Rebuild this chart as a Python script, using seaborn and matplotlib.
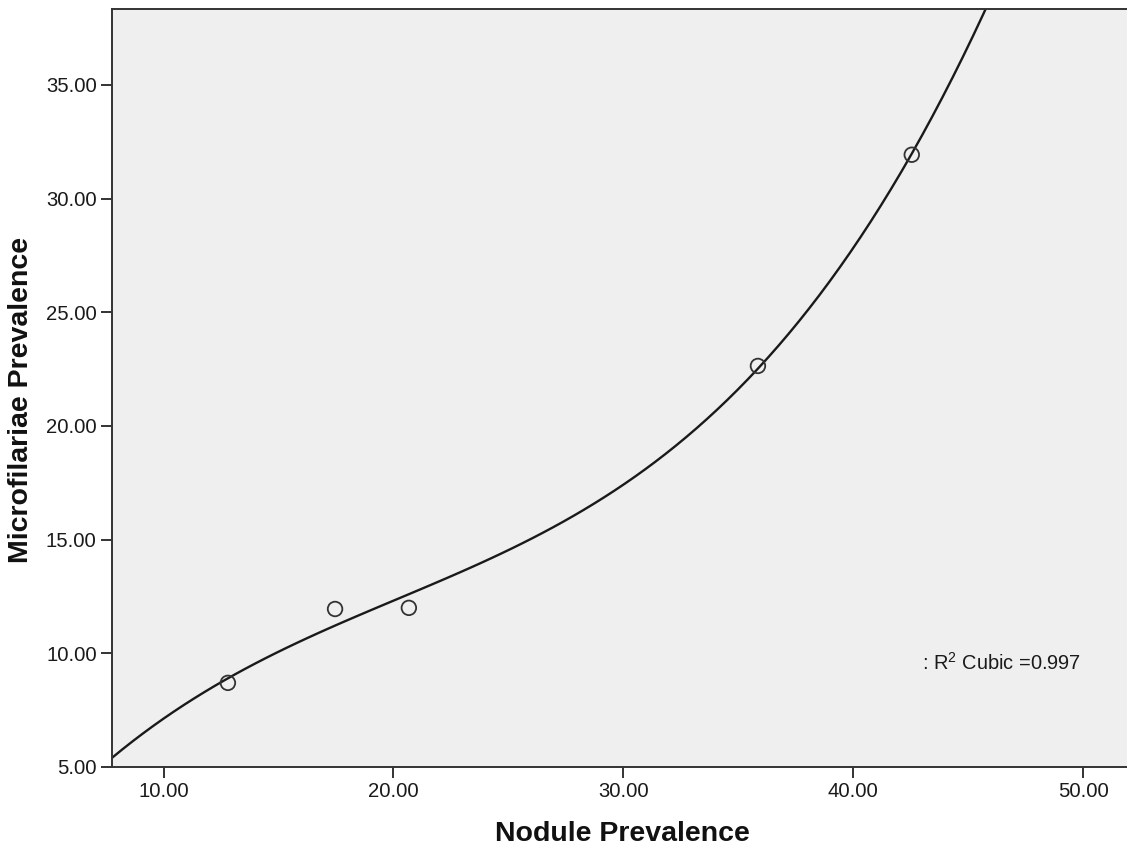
import matplotlib
matplotlib.use("Agg")
import matplotlib.pyplot as plt
import seaborn as sns
import numpy as np
import pandas as pd

# Data
nodule_prev = [12.80, 17.46, 20.67, 35.85, 42.54]
microfil_prev = [8.70, 11.95, 12.00, 22.64, 31.93]
x_ticks = [10, 20, 30, 40, 50]
y_ticks = [5, 10, 15, 20, 25, 30, 35]
r2_label = "0.997"

df = pd.DataFrame({"Nodule Prevalence": nodule_prev,
                   "Microfilariae Prevalence": microfil_prev})

sns.set_theme(style="white")
plt.rcParams["font.family"] = ["Liberation Sans", "DejaVu Sans"]
plt.rcParams["mathtext.fontset"] = "custom"
plt.rcParams["mathtext.rm"] = "Liberation Sans"

fig = plt.figure(figsize=(11.27, 8.48), dpi=100)
ax = fig.add_axes([112 / 1127, (848 - 767) / 848, 1 - 112 / 1127, (767 - 9) / 848])
ax.set_facecolor("#efefef")

ax.set_xlim(7.76, 51.9)
ax.set_ylim(5.0, 38.34)

sns.regplot(data=df, x="Nodule Prevalence", y="Microfilariae Prevalence",
            order=3, ci=None, scatter=False, truncate=False, ax=ax,
            line_kws={"color": "#1a1a1a", "linewidth": 1.7})
sns.scatterplot(data=df, x="Nodule Prevalence", y="Microfilariae Prevalence",
                ax=ax, marker="o", s=110, facecolors="none",
                edgecolor="#333333", linewidth=1.3, zorder=3)

ax.set_xticks(x_ticks)
ax.set_yticks(y_ticks)
ax.set_xticklabels([f"{v:.2f}" for v in x_ticks])
ax.set_yticklabels([f"{v:.2f}" for v in y_ticks])
ax.tick_params(axis="both", direction="out", length=8, width=1.4,
               color="#333333", labelsize=14.6, labelcolor="#1a1a1a",
               bottom=True, left=True, pad=3)

for side in ["left", "top", "bottom"]:
    ax.spines[side].set_visible(True)
    ax.spines[side].set_color("#333333")
    ax.spines[side].set_linewidth(1.4)
ax.spines["right"].set_visible(False)

ax.set_xlabel("Nodule Prevalence", fontsize=20.5, fontweight="bold",
              color="#111111")
ax.set_ylabel("Microfilariae Prevalence", fontsize=20.5, fontweight="bold",
              color="#111111")
ax.xaxis.set_label_coords(0.503, -0.071)
ax.yaxis.set_label_coords(-0.077, 0.484)

ax.text(0.798, 0.137, r": $\mathregular{R^2}$ Cubic =" + r2_label,
        transform=ax.transAxes, fontsize=14.4, color="#1a1a1a",
        ha="left", va="center")

fig.savefig("out.png", dpi=100)
